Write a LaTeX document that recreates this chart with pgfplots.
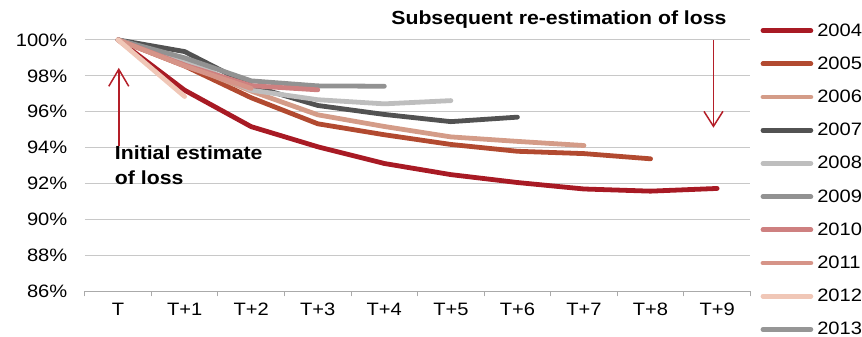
\documentclass[border=0pt]{standalone}
\usepackage{fontspec}
\setmainfont{Liberation Sans}[FakeStretch=1.12]
\usepackage{pgfplots}
\pgfplotsset{compat=1.18}
\usetikzlibrary{arrows.meta}

\definecolor{c2004}{RGB}{168,26,36}
\definecolor{c2005}{RGB}{178,74,48}
\definecolor{c2006}{RGB}{212,156,136}
\definecolor{c2007}{RGB}{82,82,82}
\definecolor{c2008}{RGB}{190,190,190}
\definecolor{c2009}{RGB}{146,146,146}
\definecolor{c2010}{RGB}{206,128,128}
\definecolor{c2011}{RGB}{214,148,136}
\definecolor{c2012}{RGB}{240,199,183}
\definecolor{c2013}{RGB}{150,150,150}
\definecolor{gridgray}{RGB}{200,200,200}
\definecolor{axisgray}{RGB}{170,170,170}
\definecolor{arrowred}{RGB}{180,30,40}

\begin{document}
\begin{tikzpicture}
\begin{axis}[
  width=667bp, height=252bp, scale only axis,
  xmin=-0.5, xmax=9.5, ymin=86, ymax=100,
  clip=false,
  axis x line*=bottom, axis y line*=left,
  y axis line style={draw=none},
  x axis line style={draw=axisgray, line width=1bp},
  xtick={0,...,9},
  xticklabels={T,T+1,T+2,T+3,T+4,T+5,T+6,T+7,T+8,T+9},
  major x tick style={draw=none},
  minor xtick={-0.5,0.5,...,9.5},
  minor x tick style={draw=axisgray, line width=1bp},
  minor tick length=5bp,
  xtick align=outside,
  ytick={86,88,...,100},
  yticklabels={86\%,88\%,90\%,92\%,94\%,96\%,98\%,100\%},
  ytick style={draw=none},
  ymajorgrids,
  grid style={draw=gridgray, line width=1bp},
  tick label style={font=\fontsize{18bp}{20bp}\selectfont},
  xticklabel style={yshift=-4bp},
  yticklabel style={xshift=-14bp},
  every axis plot/.append style={line width=4.8bp, line join=round, line cap=round},
  legend style={at={(axis description cs:1.01499,1.0655)}, anchor=north west,
    draw=none, fill=none, inner sep=0pt, row sep=19.2bp, column sep=4bp,
    font=\fontsize{18bp}{20bp}\selectfont,
    nodes={inner sep=0pt}},
  legend cell align=left,
  legend image code/.code={\draw[#1, line cap=round] (0bp,0bp) -- (48bp,0bp);},
]
\addplot[c2004] coordinates {(0,100)(1,97.2)(2,95.17)(3,94.05)(4,93.12)(5,92.5)(6,92.06)(7,91.7)(8,91.58)(9,91.73)};
\addlegendentry{2004}
\addplot[c2005] coordinates {(0,100)(1,98.55)(2,96.78)(3,95.33)(4,94.72)(5,94.18)(6,93.8)(7,93.67)(8,93.38)};
\addlegendentry{2005}
\addplot[c2006] coordinates {(0,100)(1,98.65)(2,97.15)(3,95.83)(4,95.18)(5,94.6)(6,94.35)(7,94.12)};
\addlegendentry{2006}
\addplot[c2007] coordinates {(0,100)(1,99.35)(2,97.45)(3,96.35)(4,95.85)(5,95.45)(6,95.7)};
\addlegendentry{2007}
\addplot[c2008] coordinates {(0,100)(1,98.9)(2,97.2)(3,96.67)(4,96.44)(5,96.62)};
\addlegendentry{2008}
\addplot[c2009] coordinates {(0,100)(1,99.0)(2,97.72)(3,97.44)(4,97.42)};
\addlegendentry{2009}
\addplot[c2010] coordinates {(0,100)(1,98.6)(2,97.45)(3,97.22)};
\addlegendentry{2010}
\addplot[c2011] coordinates {(0,100)(1,98.55)(2,97.3)};
\addlegendentry{2011}
\addplot[c2012] coordinates {(0,100)(1,96.85)};
\addlegendentry{2012}
\addplot[c2013] coordinates {(0,100)};
\addlegendentry{2013}

% page frame
\path (axis cs:-1.774,84.111) rectangle (axis cs:11.150,102.222);
% annotations
\begin{scope}[every node/.style={anchor=base west, inner sep=0pt,
    font=\bfseries\fontsize{19bp}{21bp}\selectfont}]
\node at (axis cs:4.103,100.833) {Subsequent re-estimation of loss};
\node at (axis cs:-0.0495,93.333) {Initial estimate};
\node at (axis cs:-0.0495,91.944) {of loss};
\end{scope}
\draw[arrowred, line width=1.5bp, -{Straight Barb[length=17bp,width=20bp]}]
  (axis cs:0.0105,94.111) -- (axis cs:0.0105,98.444);
\draw[arrowred, line width=1.5bp, -{Straight Barb[length=15bp,width=19bp]}]
  (axis cs:8.945,100) -- (axis cs:8.945,95.111);
\end{axis}
\end{tikzpicture}
\end{document}
